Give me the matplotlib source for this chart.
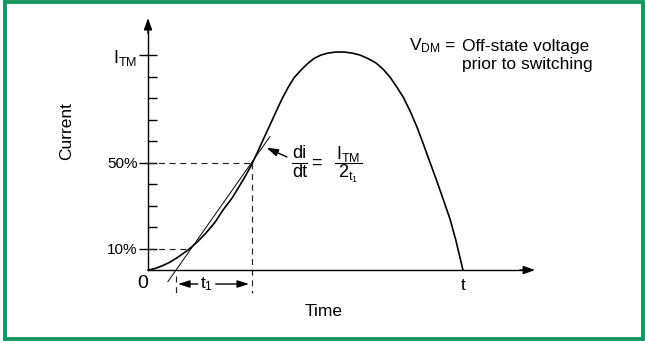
import matplotlib.pyplot as plt
from matplotlib.patches import Rectangle

plt.rcParams['font.family'] = ['Liberation Sans', 'DejaVu Sans']
plt.rcParams['mathtext.fontset'] = 'custom'
plt.rcParams['mathtext.rm'] = 'Liberation Sans'
plt.rcParams['mathtext.it'] = 'Liberation Sans'

# current pulse: time as a fraction of t, current as a fraction of I_TM
time = [0.000, 0.022, 0.044, 0.070, 0.095, 0.127, 0.156, 0.184, 0.213, 0.238,
        0.267, 0.292, 0.311, 0.330, 0.349, 0.368, 0.387, 0.406, 0.425, 0.444,
        0.463, 0.483, 0.505, 0.527, 0.549, 0.571, 0.597, 0.622, 0.648, 0.673,
        0.698, 0.724, 0.746, 0.768, 0.790, 0.810, 0.832, 0.854, 0.873, 0.895,
        0.917, 0.937, 0.959, 0.978, 1.000]
current = [0.000, 0.007, 0.019, 0.037, 0.060, 0.093, 0.130, 0.172, 0.223, 0.279,
           0.335, 0.395, 0.442, 0.493, 0.553, 0.614, 0.674, 0.735, 0.795, 0.847,
           0.893, 0.926, 0.958, 0.984, 1.000, 1.009, 1.014, 1.014, 1.009, 1.000,
           0.984, 0.963, 0.935, 0.898, 0.851, 0.805, 0.740, 0.665, 0.591, 0.502,
           0.414, 0.330, 0.237, 0.135, 0.000]

minor_levels = [0.2, 0.3, 0.4, 0.6, 0.7, 0.8, 0.9]
major_levels = [0.1, 0.5, 1.0]
major_labels = ['10%', '50%', r'I$_{\mathrm{TM}}$']

t_10 = 0.128      # curve crosses 10 %
t_50 = 0.329      # curve crosses 50 %
t_cross = 0.089   # tangent meets the time axis, start of t1
tangent_t = [0.063, 0.387]

GREEN = '#15965f'
FS = 12.5

fig = plt.figure(figsize=(6.45, 3.41), dpi=100)
ax = fig.add_axes([0, 0, 1, 1])
ax.set_xlim(-0.470, 1.578)
ax.set_ylim(-0.330, 1.256)

# axes through the origin, with arrow heads
for side in ['top', 'right']:
    ax.spines[side].set_visible(False)
ax.spines['left'].set_position(('data', 0))
ax.spines['bottom'].set_position(('data', 0))
ax.spines['left'].set_bounds(0, 1.14)
ax.spines['bottom'].set_bounds(0, 1.20)
for side in ['left', 'bottom']:
    ax.spines[side].set_linewidth(1.0)
head = dict(arrowstyle='-|>,head_length=0.7,head_width=0.25', color='black',
            lw=1.0, shrinkA=0, shrinkB=0)
ax.annotate('', xy=(0, 1.172), xytext=(0, 1.10), arrowprops=head)
ax.annotate('', xy=(1.229, 0), xytext=(1.18, 0), arrowprops=head)

ax.set_xticks([])
ax.set_yticks(major_levels, labels=major_labels)
ax.set_yticks(minor_levels, minor=True)
ax.yaxis.set_ticks_position('left')
ax.tick_params(axis='y', which='major', direction='inout', length=13,
               width=1.0, labelsize=11, pad=1)
ax.tick_params(axis='y', which='minor', direction='in', length=6.5, width=1.0)
ax.get_yticklabels()[-1].set_fontsize(13)

# pulse and tangent at 50 %
ax.plot(time, current, color='black', lw=1.2, solid_capstyle='round')
slope = 0.5 / (t_50 - t_cross)
ax.plot(tangent_t, [slope * (t - t_cross) for t in tangent_t],
        color='black', lw=0.7)

dash = dict(color='#222222', lw=0.85, linestyle=(0, (5, 4)))
ax.plot([0, t_50], [0.5, 0.5], **dash)
ax.plot([0, t_10], [0.1, 0.1], **dash)
ax.plot([t_50, t_50], [0.5, -0.105], **dash)
ax.plot([t_cross, t_cross], [-0.028, -0.105], **dash)

# t1 span
arr = dict(arrowstyle='-|>,head_length=0.7,head_width=0.22', color='black',
           lw=1.0, shrinkA=0, shrinkB=0)
ax.annotate('', xy=(t_cross + 0.006, -0.065), xytext=(0.158, -0.065), arrowprops=arr)
ax.annotate('', xy=(t_50 - 0.008, -0.065), xytext=(0.215, -0.065), arrowprops=arr)
ax.text(0.186, -0.065, r't$_1$', fontsize=FS, ha='center', va='center')

ax.text(-0.018, -0.062, '0', fontsize=FS + 1.5, ha='center', va='center')
ax.text(1.0, -0.072, 't', fontsize=FS, ha='center', va='center')
ax.text(0.556, -0.195, 'Time', fontsize=FS, ha='center', va='center')
ax.text(-0.26, 0.647, 'Current', fontsize=FS, ha='center', va='center',
        rotation=90)

# di/dt = I_TM / 2t1
ax.annotate('', xy=(0.376, 0.569), xytext=(0.441, 0.526),
            arrowprops=dict(arrowstyle='-|>,head_length=0.7,head_width=0.22',
                            color='black', lw=1.0, shrinkA=0, shrinkB=0))
ax.text(0.481, 0.542, 'di', fontsize=FS + 0.5, ha='center', va='center')
ax.plot([0.457, 0.505], [0.498, 0.498], color='black', lw=0.8)
ax.text(0.481, 0.452, 'dt', fontsize=FS + 0.5, ha='center', va='center')
ax.text(0.533, 0.498, '=', fontsize=FS + 0.5, ha='center', va='center')
ax.text(0.636, 0.542, r'I$_{\mathrm{TM}}$', fontsize=FS + 0.5, ha='center', va='center')
ax.plot([0.594, 0.679], [0.498, 0.498], color='black', lw=0.8)
ax.text(0.636, 0.448, r'2$_{\mathrm{t}_1}$', fontsize=FS + 0.5, ha='center', va='center')

# V_DM note
ax.text(0.980, 1.042, r'V$_{\mathrm{DM}}$ =', fontsize=FS, ha='right', va='center')
ax.text(0.997, 1.042, 'Off-state voltage', fontsize=FS, ha='left', va='center')
ax.text(0.997, 0.958, 'prior to switching', fontsize=FS, ha='left', va='center')

# frame
fig.add_artist(Rectangle((5 / 645, 2 / 341), 638 / 645, 337 / 341,
                         transform=fig.transFigure, fill=False,
                         edgecolor=GREEN, lw=2.8))

fig.savefig('out.png', dpi=100)
